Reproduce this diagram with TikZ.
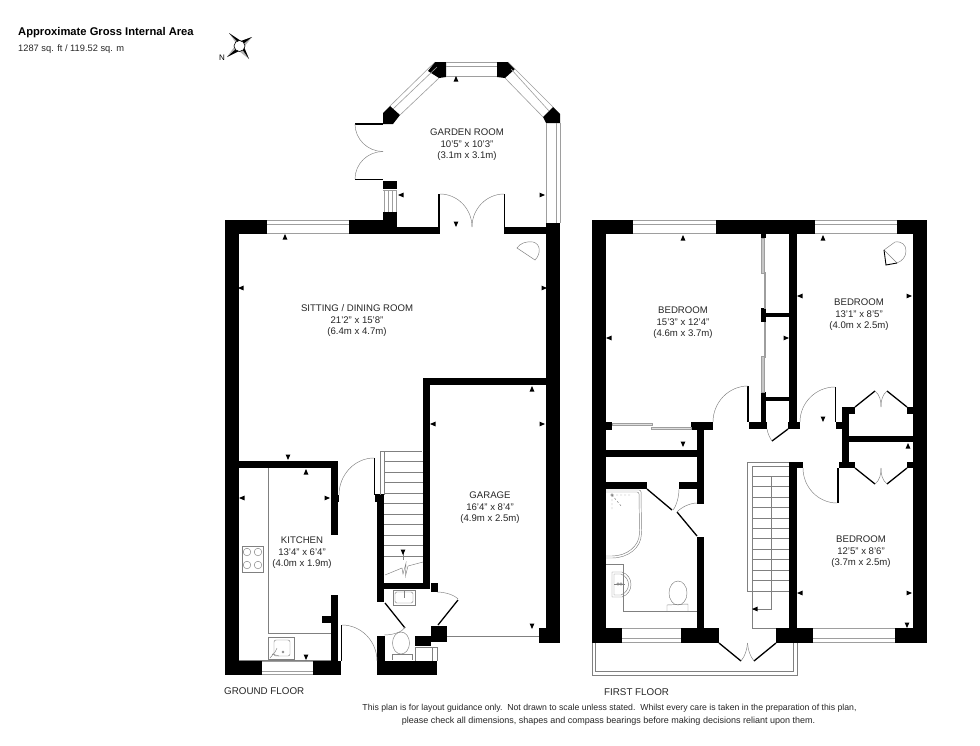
\documentclass[tikz,border=0pt]{standalone}
\usepackage{fontspec}
\setmainfont{Liberation Sans}
\definecolor{tl}{gray}{0.5}
\definecolor{wn}{gray}{0.62}
\newcommand{\wl}[4]{\fill[black] (#1,#2) rectangle (#3,#4);}
\newcommand{\qa}[3]{\draw[doorarc] (#1) .. controls ($(#1)!.55!(#2)$) and ($(#3)!.55!(#2)$) .. (#3);}
\newcommand{\tri}[3]{\fill[black,shift={(#1,#2)},rotate=#3] (3,0) -- (-2.5,2.4) -- (-2.5,-2.4) -- cycle;}
\newcommand{\lbl}[6]{\node[roomtxt] (#6a) at (#1,#2) {#3}; \node[roomtxt] (#6b) at (#1,#2+12) {#4}; \node[roomtxt] (#6c) at (#1,#2+24) {#5};}
\usetikzlibrary{calc}
\tikzset{
  doorarc/.style={draw=tl,line width=.45pt},
  thinl/.style={draw=tl,line width=.45pt},
  winl/.style={draw=wn,line width=.6pt},
  doorl/.style={draw=black,line width=1.3pt},
  thinw/.style={draw=black,line width=1.1pt},
  roomtxt/.style={inner sep=0pt,font=\fontsize{9.6}{11}\selectfont,text=black!85},
  plain/.style={inner sep=0pt,anchor=west}
}
\begin{document}
\begin{tikzpicture}[x=1pt,y=-1pt]
\useasboundingbox (0,0) rectangle (980,745);
\fill[white] (0,0) rectangle (980,745);
% header
\node[plain,font=\bfseries\fontsize{11.2}{13}\selectfont] (title) at (18,33) {Approximate Gross Internal Area};
\node[plain,font=\fontsize{9.3}{11}\selectfont,text=black!85] (sub) at (18,49) {1287 sq. ft / 119.52 sq. m};
% compass
\fill[gray!60] (236,43) -- (229,33) -- (241,41) -- cycle;
\fill[black] (238,42) -- (229,33) -- (241,41) -- cycle;
\fill[gray!60] (241,41) -- (252,37) -- (244,47) -- cycle;
\fill[black] (241,41) -- (252,37) -- (243,44) -- cycle;
\fill[gray!60] (244,47) -- (249,59) -- (239,51) -- cycle;
\fill[black] (244,47) -- (249,59) -- (242,49) -- cycle;
\fill[gray!60] (239,51) -- (227,57) -- (235,46) -- cycle;
\fill[black] (239,51) -- (227,57) -- (236,49) -- cycle;
\draw[fill=white,draw=black,line width=.6pt] (239.5,46) circle (5.5);
\node[inner sep=0pt,font=\fontsize{8}{9}\selectfont] (north) at (222,58) {N};

% ---------- GROUND FLOOR walls
\wl{225}{220}{239}{675}
\wl{225}{220}{267}{234}
\wl{349}{220}{397}{234}
\wl{397}{227}{438}{234}
\wl{383}{212}{397}{222}
\wl{383}{181}{397}{189}
\wl{505}{227}{546}{234}
\wl{546}{223}{560}{643}
\wl{423}{378}{546}{385}
\wl{423}{378}{430}{589}
\wl{539}{628}{560}{643}
% garden room bay blocks
\fill[black] (383,124) -- (383,113) -- (390,106) -- (400,115) -- (393,124) -- cycle;
\fill[black] (428,71) -- (435,62) -- (446,62) -- (446,77) -- (439,78) -- cycle;
\fill[black] (497,62) -- (508,62) -- (515,69) -- (505,78) -- (497,77) -- cycle;
\fill[black] (543,117) -- (553,107) -- (560,114) -- (560,123) -- (546,123) -- cycle;
% kitchen walls
\wl{239}{461}{338}{468}
\wl{331}{461}{338}{535}
\wl{333}{495}{339}{502}
\wl{331}{595}{338}{661}
\wl{322}{616}{331}{623}
\wl{225}{661}{262}{675}
\wl{313}{661}{341}{675}
% stairs & wc walls
\wl{375}{494}{384}{502}
\wl{377}{502}{384}{602}
\wl{377}{583}{430}{589}
\wl{431}{583}{438}{592}
\wl{377}{636}{385}{661}
\wl{377}{661}{437}{675}
\wl{415}{636}{431}{646}
\wl{431}{626}{447}{642}
% thin door walls
\draw[thinw] (341.5,625) -- (341.5,661);
\draw[thinw] (374.5,458) -- (374.5,495);
\draw[thinw] (355,124) -- (383,124);
\draw[thinw] (355,179.5) -- (383,179.5);
\draw[thinw] (439,194) -- (439,234);
\draw[thinw] (504.5,194) -- (504.5,234);
\draw[doorl] (385,603) -- (405,628);
\draw[doorl] (458,600) -- (438,625);
% windows ground
\draw[winl] (267,220.5) -- (349,220.5) (267,224.5) -- (349,224.5) (267,233.5) -- (349,233.5);
\draw[winl] (384,190) -- (384,212) (396.5,190) -- (396.5,212) (388,190) -- (388,212) (392,190) -- (392,212) (383,190) -- (397,190);
\draw[winl] (446,62.5) -- (497,62.5) (446,66.5) -- (497,66.5) (446,76.5) -- (497,76.5);
\draw[winl] (390,106) -- (435,62) (400,115) -- (439,78) (393,109) -- (437,67);
\draw[winl] (508,62) -- (553,107) (505,78) -- (543,117) (511,69) -- (549,111);
\draw[winl] (546,123) -- (546,223) (560,123) -- (560,223) (556,123) -- (556,223);
\draw[winl] (262,661) -- (313,661) (262,671) -- (313,671) (262,674.5) -- (313,674.5);
% door arcs ground
\qa{355,124}{355,151.5}{383,151.5}
\qa{355,179}{355,151.5}{383,151.5}
\qa{440,194}{472,194}{472,227}
\qa{504,194}{472,194}{472,227}
\qa{374,458}{339,458}{339,495}
\qa{342,625}{377,625}{377,661}
\qa{405,627}{402,635}{384,635}
\qa{437,592}{452,592}{458,599}
% garage door line
\draw[thinl] (447,636) -- (539,636);
% stairs ground
\draw[thinl] (380,451) -- (422,451) (380,451) -- (380,495) (384.5,451) -- (384.5,495);
\foreach \yy in {461.5,472,482,493,503.5,514,524,535,545.5,556} {\draw[thinl] (384,\yy) -- (423,\yy);}
\draw[thinl] (385,575) -- (402,568) -- (403,574) -- (406,563) -- (405.5,576) -- (408,566) -- (423,562);
\draw[thinl] (403,553) -- (403,560);
% kitchen fittings
\draw[thinl] (268,468) -- (268,633) -- (331,633);
\draw[thinl] (239,660.5) -- (331,660.5);
\draw[thinl] (242,546) rectangle (263,572);
\foreach \cx/\cy in {247/552,258/552,247/565,258/565} {\draw[thinl] (\cx,\cy) circle (3.8);}
\draw[thinl] (268,637) rectangle (294,659);
\draw[thinl,rounded corners=2pt] (274,640) rectangle (290,656);
\draw[thinl] (270,658) -- (275,652) -- (277,648) (272,654) -- (279,656);
\draw[thinl] (283,652) circle (1);
% wc fittings
\draw[thinl] (393,590) rectangle (415,605);
\draw[thinl,rounded corners=1.5pt] (395,592) rectangle (413,603);
\draw[thinl] (404,591) -- (404,598);
\draw[thinl] (401.5,590.5) -- (406.5,590.5);
\draw[thinl] (401,643) ellipse (8.5 and 11);
\draw[thinl] (392,660) -- (392,654) -- (412,654) -- (412,660);
\draw[thinl] (415,647) -- (437,647) (432,647) -- (432,661) (437,647) -- (437,661) (415,647) -- (415,661);
% fireplace
\draw[thinl,fill=white] (517,248) .. controls (520,243) and (527,241) .. (533,242) .. controls (541,244) and (541,254) .. (535,260) -- cycle;

% ---------- FIRST FLOOR walls
\wl{592}{220}{606}{643}
\wl{592}{220}{633}{234}
\wl{716}{220}{815}{234}
\wl{897}{220}{927}{234}
\wl{913}{220}{927}{643}
\wl{592}{628}{622}{643}
\wl{681}{628}{719}{643}
\wl{776}{628}{813}{643}
\wl{895}{628}{927}{643}
\wl{606}{422}{612}{430}
\wl{691}{422}{713}{430}
\wl{697}{428}{704}{504}
\wl{697}{537}{704}{628}
\wl{606}{450}{697}{457}
\wl{606}{482}{647}{489}
\wl{679}{482}{697}{489}
\wl{761}{234}{766}{238}
\wl{761}{308}{766}{322}
\wl{765}{313}{789}{317}
\wl{761}{392}{766}{422}
\wl{765}{397}{789}{401}
\wl{789}{234}{797}{428}
\wl{749}{422}{767}{429}
\wl{788}{422}{800}{429}
\wl{836}{422}{849}{429}
\wl{842}{407}{849}{468}
\wl{842}{407}{855}{414}
\wl{907}{407}{913}{414}
\wl{849}{436}{913}{442}
\wl{839}{462}{855}{468}
\wl{907}{462}{913}{468}
\wl{789}{462}{797}{628}
\wl{789}{462}{803}{468}
% thin door walls first
\draw[thinw] (748,386) -- (748,422);
\draw[thinw] (835.5,387) -- (835.5,422);
\draw[thinw] (838,468) -- (838,503);
\draw[doorl] (647,489) -- (672,510);
\draw[doorl] (677,512) -- (697,536);
\draw[doorl] (772,441) -- (788,429);
\draw[doorl] (855,407) -- (875,391);
\draw[doorl] (907,407) -- (887,391);
\draw[doorl] (855,468) -- (875,484);
\draw[doorl] (907,468) -- (887,484);
\draw[doorl] (719,643) -- (741,661);
\draw[doorl] (776,643) -- (754,661);
% arcs first
\qa{748,386}{713,386}{713,422}
\qa{835,387}{800,387}{800,422}
\qa{803,468}{803,503}{837,503}
\qa{767,429}{768,436}{772,441}
\qa{679,489}{679,503}{673,510}
\qa{697,503}{685,503}{677,512}
\foreach \sx/\sd in {875/1,887/-1} {\draw[doorarc] (\sx,391) .. controls (\sx+\sd*5,395) and (\sx+\sd*6,401) .. (881,407);
  \draw[doorarc] (\sx,484) .. controls (\sx+\sd*5,480) and (\sx+\sd*6,474) .. (881,468);}
\foreach \sx/\sd in {741/1,754/-1} {\draw[doorarc] (\sx,661) .. controls (\sx+\sd*4,656) and (\sx+\sd*6,650) .. (747.5,643);}
% windows first
\draw[winl] (633,220.5) -- (716,220.5) (633,224.5) -- (716,224.5) (633,233.5) -- (716,233.5);
\draw[winl] (815,220.5) -- (897,220.5) (815,224.5) -- (897,224.5) (815,233.5) -- (897,233.5);
\draw[winl] (622,628.5) -- (681,628.5) (622,638.5) -- (681,638.5) (622,642.5) -- (681,642.5);
\draw[winl] (813,628.5) -- (895,628.5) (813,638.5) -- (895,638.5) (813,642.5) -- (895,642.5);
% sliding doors
\draw[winl,fill=gray!25] (612,423) rectangle (652,425.5);
\draw[winl,fill=gray!25] (651,427) rectangle (691,429.5);
\draw[winl,fill=gray!45] (761.5,238) rectangle (764,273);
\draw[winl,fill=white] (764,272) rectangle (765.5,308);
\draw[winl,fill=white] (764,322) rectangle (765.5,357);
\draw[winl,fill=gray!45] (761.5,356) rectangle (764,392);
% balcony
\draw[thinl] (592,643) -- (592,675) -- (797,675) -- (797,643);
\draw[thinl] (595.5,643) -- (595.5,671.5) -- (793,671.5) -- (793,643);
% stairs first
\draw[thinl] (747,591) -- (747,462) -- (789,462);
\draw[thinl] (752,628) -- (752,466) -- (789,466);
\draw[thinl] (771,476) -- (771,609) -- (752,609);
\draw[thinl] (752,628) -- (776,628);
\draw[thinl] (747,591) -- (752,591);
\foreach \yy in {476,486,497,507,518,528,538,549,559,570,580,591} {\draw[thinl] (752,\yy) -- (789,\yy);}
% bath
\draw[thinl,rounded corners=2pt] (606,490) -- (641,490) -- (641.5,532) .. controls (641,548) and (628,558) .. (610,558) -- (606,558);
\draw[thinl,rounded corners=2pt] (606,492) -- (639,492) -- (639.5,532) .. controls (639,546) and (627,556) .. (610,556) -- (606,556);
\draw[thinl,dash pattern=on 2pt off 2pt] (612,495) -- (630,495) (612,495) -- (612,510) (612,495) -- (622,507);
\draw[thinl] (612,495) circle (1.3);
% wash
\draw[thinl] (606,564) -- (623,564) -- (623,611) -- (697,611);
\draw[thinl] (612,572) -- (622,572) .. controls (634,576) and (634,593) .. (622,597) -- (612,597) -- cycle;
\draw[thinl] (614,574) -- (621,574) .. controls (631,578) and (631,591) .. (621,595) -- (614,595) -- cycle;
\draw[thinl] (614,584) -- (625,584);
\draw[thinl] (618,584) circle (1.2) (621,584) circle (1.2);
\draw[thinl] (678,593) ellipse (9 and 12);
\draw[thinl] (667,611) -- (667,605) -- (688,604) -- (688,611);
% ring
\draw[thinl,fill=white] (884,250) -- (895,242) .. controls (902,241) and (906,245) .. (906,251) .. controls (906,257) and (902,261) .. (897,263) -- cycle;
\draw[black,line width=.9pt] (884,250) -- (886,265) -- (897,263);

% arrows
\foreach \ax/\ay/\ad in {285/237/90,241/288/180,544/288/0,456/79/90,401/195/180,542/195/0,456/224/270,
 288/457/270,306/472/90,242/498/180,327/498/0,306/657/270,532/389/90,433/424/180,542/424/0,532/626/270,403/552/270,
 683/238/90,609/338/180,786/338/0,683/444/270,823/238/90,800/296/180,909/296/0,823/419/270,908/446/90,
 800/593/180,909/593/0,907/625/270,755/609/180} {\tri{\ax}{\ay}{\ad}}

% labels
\lbl{467}{132}{GARDEN ROOM}{10'5" x 10'3"}{(3.1m x 3.1m)}{gr}
\lbl{357}{308}{SITTING / DINING ROOM}{21'2" x 15'8"}{(6.4m x 4.7m)}{sd}
\lbl{302}{540}{KITCHEN}{13'4" x 6'4"}{(4.0m x 1.9m)}{ki}
\lbl{490}{495}{GARAGE}{16'4" x 8'4"}{(4.9m x 2.5m)}{ga}
\lbl{683}{310}{BEDROOM}{15'3" x 12'4"}{(4.6m x 3.7m)}{ba}
\lbl{859}{302}{BEDROOM}{13'1" x 8'5"}{(4.0m x 2.5m)}{bb}
\lbl{861}{539}{BEDROOM}{12'5" x 8'6"}{(3.7m x 2.5m)}{bc}
\node[plain,font=\fontsize{9.8}{11}\selectfont,text=black!85] (gf) at (224,691.5) {GROUND FLOOR};
\node[plain,font=\fontsize{9.8}{11}\selectfont,text=black!85] (ff) at (604,692) {FIRST FLOOR};
\node[inner sep=0pt,font=\fontsize{8.7}{10}\selectfont,text=black!85] (foot1) at (609.5,708) {This plan is for layout guidance only.\ \ Not drawn to scale unless stated.\ \ Whilst every care is taken in the preparation of this plan,};
\node[inner sep=0pt,font=\fontsize{9}{10}\selectfont,text=black!85] (foot2) at (608.5,721) {please check all dimensions, shapes and compass bearings before making decisions reliant upon them.};
\end{tikzpicture}
\end{document}
